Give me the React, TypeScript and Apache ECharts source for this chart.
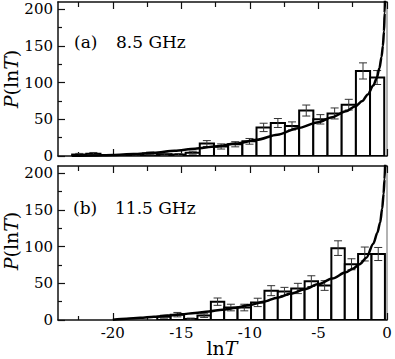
import React, { useEffect, useRef } from 'react';
import * as echarts from 'echarts';

const xMajorTicks = [-20, -15, -10, -5, 0];
const xMinorTicks = [-22.5, -17.5, -12.5, -7.5, -2.5];
const yMajorTicks = [0, 50, 100, 150, 200];
const yMinorTicks = [25, 75, 125, 175];

// panel (a) 8.5 GHz
const binWidthA = 1.035;
const binCentersA = [-22.45, -21.42, -20.38, -19.35, -18.31, -17.28, -16.24, -15.21, -14.17, -13.14, -12.1, -11.07, -10.03, -9.0, -7.96, -6.93, -5.89, -4.86, -3.82, -2.79, -1.75, -0.72];
const valuesA = [2, 3, 1, 1, 1, 3.5, 2.5, 2, 4.5, 17, 13, 16, 20, 39, 45, 41, 62, 50, 58, 70, 116, 107];
const errorsA = [1.5, 1.8, 1, 1, 1, 1.8, 1.5, 1.4, 2, 4, 3.5, 3.5, 3.9, 5.7, 6.1, 5.5, 7.5, 6.4, 7.5, 7.3, 11, 9.5];
const curveXA = [-23.0, -21.5, -20, -18.5, -17, -15.5, -14, -12.5, -11, -9.5, -8, -6.5, -5, -4, -3, -2.3, -1.8, -1.4, -1.0, -0.75, -0.55, -0.4, -0.3, -0.22, -0.17, -0.14];
const curveYA = [0.3, 0.8, 1.5, 2.6, 4.5, 7.3, 10, 13, 17, 22, 29, 38, 46, 53, 61, 68, 75, 84, 96, 106, 120, 135, 150, 170, 195, 220];

// panel (b) 11.5 GHz
const binWidthB = 0.977;
const binCentersB = [-16.27, -15.29, -14.32, -13.34, -12.36, -11.39, -10.41, -9.43, -8.45, -7.48, -6.5, -5.52, -4.55, -3.57, -2.59, -1.62, -0.64];
const valuesB = [4.5, 7.3, 1.4, 6, 25, 17, 17, 24, 40, 39, 43, 53, 47, 98, 76, 90, 90];
const errorsB = [2, 3, 1.2, 2.5, 5, 4.5, 4.5, 5.7, 6.8, 5.5, 7, 7.3, 6.6, 10, 7.5, 9.5, 8.9];
const curveXB = [-20, -19, -18, -17, -16, -15, -14, -13, -12, -11, -10, -9, -8, -7, -6, -5, -4, -3, -2.5, -2, -1.5, -1.0, -0.7, -0.5, -0.35, -0.25, -0.18, -0.13];
const curveYB = [0.5, 1.8, 3, 4.4, 6, 7.8, 9.6, 11.7, 14, 16.8, 20.5, 25, 30.5, 36, 42, 49, 56.5, 65, 70, 76, 85, 104, 119, 133, 152, 172, 192, 215];

const FONT = 'DejaVu Serif';
const AXIS_COLOR = '#111';

function xAxes(gridIndex: number, showLabels: boolean) {
  const base = {
    type: 'value' as const,
    gridIndex,
    min: -24,
    max: 0,
    splitLine: { show: false },
  };
  return [
    {
      ...base,
      position: 'bottom',
      axisLine: { show: true, onZero: false, lineStyle: { color: AXIS_COLOR, width: 1.5 } },
      axisTick: { show: true, inside: true, length: 7, customValues: xMajorTicks, lineStyle: { color: AXIS_COLOR, width: 1.2 } },
      axisLabel: {
        show: showLabels,
        customValues: xMajorTicks,
        margin: 5,
        fontSize: 15,
        fontFamily: FONT,
        color: '#000',
      },
    },
    {
      ...base,
      position: 'bottom',
      axisLine: { show: false, onZero: false },
      axisTick: { show: true, inside: true, length: 4, customValues: xMinorTicks, lineStyle: { color: AXIS_COLOR, width: 1.2 } },
      axisLabel: { show: false },
    },
    {
      ...base,
      position: 'top',
      axisLine: { show: true, onZero: false, lineStyle: { color: AXIS_COLOR, width: 1.5 } },
      axisTick: { show: true, inside: true, length: 7, customValues: xMajorTicks, lineStyle: { color: AXIS_COLOR, width: 1.2 } },
      axisLabel: { show: false },
    },
    {
      ...base,
      position: 'top',
      axisLine: { show: false, onZero: false },
      axisTick: { show: true, inside: true, length: 5, customValues: xMinorTicks, lineStyle: { color: AXIS_COLOR, width: 1.2 } },
      axisLabel: { show: false },
    },
  ];
}

function yAxes(gridIndex: number) {
  const base = {
    type: 'value' as const,
    gridIndex,
    min: 0,
    max: 210,
    splitLine: { show: false },
  };
  return [
    {
      ...base,
      position: 'left',
      interval: 50,
      axisLine: { show: true, onZero: false, lineStyle: { color: AXIS_COLOR, width: 1.5 } },
      axisTick: { show: true, inside: true, length: 7, customValues: yMajorTicks, lineStyle: { color: AXIS_COLOR, width: 1.2 } },
      axisLabel: {
        show: true,
        customValues: yMajorTicks,
        margin: 5,
        fontSize: 15,
        lineHeight: 13,
        fontFamily: FONT,
        color: '#000',
        padding: [2, 0, 0, 0],
      },
    },
    {
      ...base,
      position: 'left',
      interval: 50,
      axisLine: { show: false, onZero: false },
      axisTick: { show: true, inside: true, length: 4, customValues: yMinorTicks, lineStyle: { color: AXIS_COLOR, width: 1.2 } },
      axisLabel: { show: false },
    },
    {
      ...base,
      position: 'right',
      interval: 50,
      axisLine: { show: true, onZero: false, lineStyle: { color: '#999', width: 1.5 } },
      axisTick: { show: false },
      axisLabel: { show: false },
    },
  ];
}

function barSeries(xi: number, yi: number, centers: number[], values: number[], width: number) {
  return {
    type: 'custom',
    xAxisIndex: xi,
    yAxisIndex: yi,
    clip: true,
    z: 2,
    data: centers.map((c, i) => [c, values[i]]),
    encode: { x: 0, y: 1 },
    renderItem: (_p: any, api: any) => {
      const c = api.value(0);
      const v = api.value(1);
      const p0 = api.coord([c - width / 2, v]);
      const p1 = api.coord([c + width / 2, 0]);
      return {
        type: 'rect',
        shape: { x: p0[0], y: p0[1], width: p1[0] - p0[0], height: p1[1] - p0[1] },
        style: { fill: '#fff', stroke: '#000', lineWidth: 2 },
      };
    },
  };
}

function errSeries(xi: number, yi: number, centers: number[], values: number[], errors: number[]) {
  return {
    type: 'custom',
    xAxisIndex: xi,
    yAxisIndex: yi,
    clip: true,
    z: 3,
    data: centers.map((c, i) => [c, values[i], errors[i]]),
    encode: { x: 0, y: 1 },
    renderItem: (_p: any, api: any) => {
      const c = api.value(0);
      const v = api.value(1);
      const e = api.value(2);
      const t = api.coord([c, v + e]);
      const b = api.coord([c, Math.max(0, v - e)]);
      const style = { stroke: '#333', lineWidth: 1 };
      return {
        type: 'group',
        children: [
          { type: 'line', shape: { x1: t[0], y1: t[1], x2: b[0], y2: b[1] }, style },
          { type: 'line', shape: { x1: t[0] - 4, y1: t[1], x2: t[0] + 4, y2: t[1] }, style },
          { type: 'line', shape: { x1: b[0] - 4, y1: b[1], x2: b[0] + 4, y2: b[1] }, style },
        ],
      };
    },
  };
}

function curveSeries(xi: number, yi: number, xs: number[], ys: number[]) {
  return {
    type: 'line',
    xAxisIndex: xi,
    yAxisIndex: yi,
    z: 4,
    data: xs.map((x, i) => [x, ys[i]]),
    showSymbol: false,
    symbol: 'none',
    smooth: 0.3,
    smoothMonotone: 'x',
    clip: true,
    lineStyle: { color: '#000', width: 2.5 },
  };
}

function yTitle(y: number) {
  return {
    type: 'text',
    x: 11,
    y,
    rotation: Math.PI / 2,
    style: {
      text: '{i|P}{n|(ln}{i|T}{n|)}',
      align: 'center',
      verticalAlign: 'middle',
      rich: {
        i: { fontStyle: 'italic', fontSize: 19, fontFamily: FONT, fill: '#000' },
        n: { fontSize: 19, fontFamily: FONT, fill: '#000' },
      },
    },
  };
}

function label(x: number, y: number, text: string) {
  return {
    type: 'text',
    x,
    y,
    style: { text, fontSize: 17, fontFamily: FONT, fill: '#000', verticalAlign: 'middle', align: 'left' },
  };
}

export default function App() {
  const ref = useRef<HTMLDivElement>(null);
  useEffect(() => {
    if (!ref.current) return;
    const chart = echarts.init(ref.current, null, { renderer: 'svg' });
    const option: any = {
      animation: false,
      backgroundColor: '#fff',
      textStyle: { fontFamily: FONT },
      grid: [
        { left: 58, top: 2, width: 329, height: 154 },
        { left: 58, top: 166, width: 329, height: 154 },
      ],
      xAxis: [...xAxes(0, false), ...xAxes(1, true)],
      yAxis: [...yAxes(0), ...yAxes(1)],
      series: [
        barSeries(0, 0, binCentersA, valuesA, binWidthA),
        errSeries(0, 0, binCentersA, valuesA, errorsA),
        curveSeries(0, 0, curveXA, curveYA),
        barSeries(4, 3, binCentersB, valuesB, binWidthB),
        errSeries(4, 3, binCentersB, valuesB, errorsB),
        curveSeries(4, 3, curveXB, curveYB),
      ],
      graphic: [
        label(74, 42, '(a)'),
        label(116, 42, '8.5 GHz'),
        label(73, 208, '(b)'),
        label(115, 208, '11.5 GHz'),
        yTitle(79),
        yTitle(241),
        {
          type: 'text',
          x: 222,
          y: 348,
          style: {
            text: '{n|ln}{i|T}',
            align: 'center',
            verticalAlign: 'middle',
            rich: {
              i: { fontStyle: 'italic', fontSize: 19, fontFamily: FONT, fill: '#000' },
              n: { fontSize: 19, fontFamily: FONT, fill: '#000' },
            },
          },
        },
      ],
    };
    chart.setOption(option);
    return () => chart.dispose();
  }, []);
  return <div ref={ref} style={{ position: 'fixed', left: 0, top: 0, width: 395, height: 359 }} />;
}
